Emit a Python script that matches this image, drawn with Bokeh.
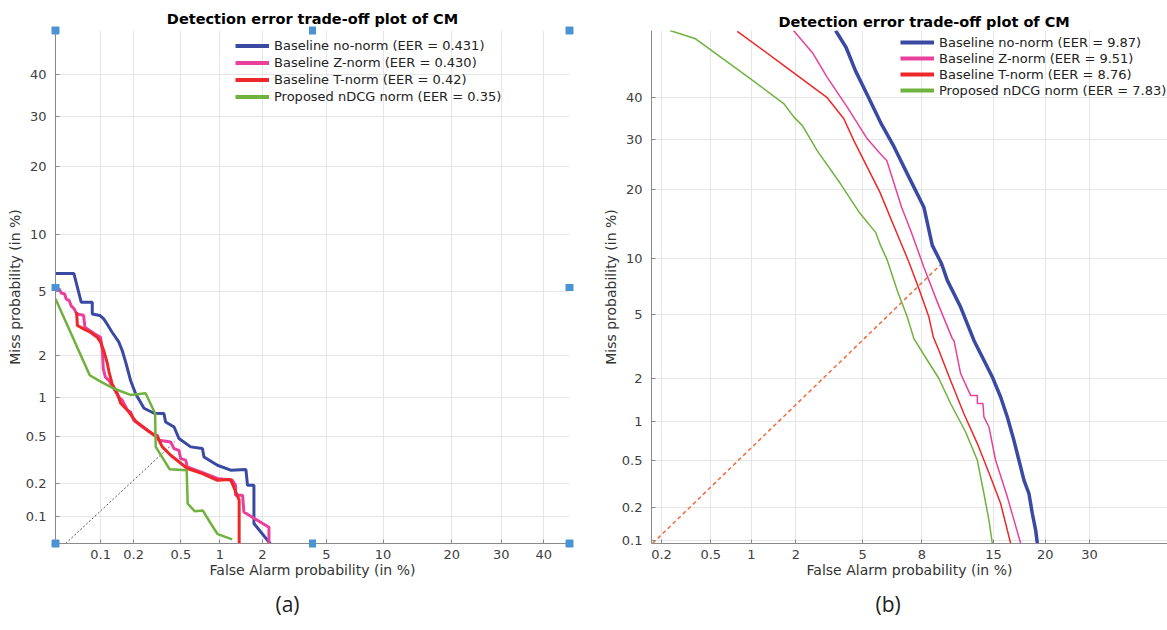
from statistics import NormalDist
from bokeh.plotting import figure
from bokeh.models import (Range1d, FixedTicker, Legend, LegendItem, LinearAxis, Grid,
                          Title)
from bokeh.layouts import row
from bokeh.embed import file_html
from bokeh.resources import INLINE

# ---------------- data (all values in %) ----------------
series_names = ["Baseline no-norm", "Baseline Z-norm", "Baseline T-norm", "Proposed nDCG norm"]
series_colors = ["#3a4aa3", "#e8409c", "#ee2828", "#70b23e"]
eer_a = ["0.431", "0.430", "0.42", "0.35"]
eer_b = ["9.87", "9.51", "8.76", "7.83"]
plot_title = "Detection error trade-off plot of CM"

# panel (a)
a_ticks = [0.1, 0.2, 0.5, 1, 2, 5, 10, 20, 30, 40]
a_tick_labels = ["0.1", "0.2", "0.5", "1", "2", "5", "10", "20", "30", "40"]
a_fa_limits = [0.0364, 46.5]
a_miss_limits = [0.0556, 51.1]

a_blue_fa = [0.0364, 0.0555, 0.0655, 0.0835, 0.0835, 0.0985, 0.107, 0.115, 0.128, 0.1475,
             0.158, 0.17, 0.188, 0.208, 0.246, 0.30, 0.363, 0.375, 0.44, 0.482,
             0.598, 0.738, 0.759, 0.959, 1.20, 1.54, 1.58, 1.75, 1.75, 2.27]
a_blue_miss = [6.3, 6.3, 4.32, 4.32, 3.68, 3.60, 3.43, 3.19, 2.83, 2.44,
               2.15, 1.79, 1.33, 1.07, 0.834, 0.764, 0.76, 0.654, 0.597, 0.483,
               0.413, 0.40, 0.341, 0.29, 0.263, 0.266, 0.194, 0.194, 0.0867, 0.0547]

a_pink_fa = [0.0364, 0.040, 0.0416, 0.045, 0.0466, 0.050, 0.052, 0.056, 0.059, 0.069,
             0.071, 0.086, 0.1, 0.104, 0.106, 0.111, 0.12, 0.133, 0.1475, 0.158,
             0.176, 0.188, 0.20, 0.30, 0.32, 0.33, 0.413, 0.44, 0.482, 0.498,
             0.546, 0.563, 0.716, 0.959, 1.235, 1.30, 1.30, 1.46, 1.49, 2.21, 2.21]
a_pink_miss = [5.3, 5.12, 4.90, 4.83, 4.52, 4.42, 4.13, 3.94, 3.68, 3.61,
               3.04, 2.79, 2.63, 2.15, 1.61, 1.41, 1.33, 1.16, 1.01, 0.96,
               0.806, 0.78, 0.675, 0.513, 0.513, 0.468, 0.453, 0.40, 0.387, 0.33,
               0.32, 0.28, 0.254, 0.223, 0.215, 0.194, 0.158, 0.158, 0.111, 0.080, 0.056]

a_red_fa = [0.059, 0.060, 0.069, 0.080, 0.093, 0.1, 0.107, 0.115, 0.12, 0.128,
            0.143, 0.153, 0.176, 0.208, 0.263, 0.32, 0.352, 0.413, 0.563, 0.738,
            0.959, 1.20, 1.38, 1.38]
a_red_miss = [3.77, 3.12, 2.97, 2.83, 2.63, 2.44, 2.15, 1.79, 1.53, 1.26,
              1.07, 0.91, 0.806, 0.663, 0.563, 0.497, 0.413, 0.352, 0.272, 0.246,
              0.215, 0.218, 0.143, 0.04]

a_green_fa = [0.0364, 0.079, 0.1, 0.132, 0.188, 0.254, 0.292, 0.306, 0.31, 0.405,
              0.556, 0.566, 0.643, 0.742, 0.854, 0.964, 1.23]
a_green_miss = [4.53, 1.455, 1.31, 1.17, 1.05, 1.08, 0.834, 0.764, 0.413, 0.268,
                0.263, 0.133, 0.113, 0.115, 0.0867, 0.0685, 0.061]

a_diag_fa = [0.046, 0.445]
a_diag_miss = [0.0556, 0.453]

# panel (b)
b_xticks = [0.2, 0.5, 1, 2, 5, 10, 20, 30, 40]
b_xtick_labels = ["0.2", "0.5", "1", "2", "5", "8", "15", "20", "30"]
b_yticks = [0.1, 0.2, 0.5, 1, 2, 5, 10, 20, 30, 40]
b_ytick_labels = ["0.1", "0.2", "0.5", "1", "2", "5", "10", "20", "30", "40"]
b_fa_limits = [0.1643, 58.9]
b_miss_limits = [0.0946, 56.9]

b_blue_fa = [3.51, 4.04, 4.56, 5.38, 6.30, 7.34, 8.69, 10.22, 11.17, 12.29,
             13.02, 14.83, 16.80, 18.38, 19.78, 21.23, 22.44, 23.67, 24.63, 25.62,
             26.60, 27.29, 27.97, 28.32]
b_blue_miss = [56.9, 52.6, 46.7, 40.0, 33.6, 28.35, 22.2, 16.95, 11.5, 9.38,
               7.72, 5.54, 3.53, 2.65, 2.06, 1.50, 1.08, 0.72, 0.502, 0.344,
               0.266, 0.178, 0.126, 0.095]

b_pink_fa = [1.93, 2.55, 3.13, 4.10, 5.30, 6.24, 6.73, 7.99, 8.84, 10.22,
             11.77, 13.68, 13.9, 14.83, 16.29, 17.33, 17.33, 18.22, 18.38, 19.21,
             20.35, 22.44, 24.96]
b_pink_miss = [56.9, 51.2, 45.0, 37.6, 30.2, 26.9, 25.5, 16.95, 13.5, 9.02,
               5.90, 3.62, 3.53, 2.17, 1.54, 1.54, 1.35, 1.35, 1.08, 0.91,
               0.502, 0.249, 0.095]

b_red_fa = [0.79, 1.67, 3.13, 3.92, 4.47, 5.30, 6.19, 7.46, 8.68, 9.69,
            10.78, 11.29, 11.96, 13.45, 15.30, 17.33, 19.49, 21.23, 23.05]
b_red_miss = [56.7, 48.0, 39.9, 34.8, 29.8, 24.2, 19.5, 13.5, 9.55, 6.98,
              4.86, 3.70, 3.06, 1.95, 1.14, 0.68, 0.367, 0.218, 0.095]

b_green_fa = [0.235, 0.38, 0.985, 1.67, 1.94, 2.2, 2.72, 3.75, 4.77, 5.88,
              6.24, 6.77, 7.6, 8.52, 9.17, 10.6, 11.96, 13.45, 15.55, 17.33,
              18.38, 19.21, 19.78]
b_green_miss = [56.9, 54.8, 44.6, 38.4, 35.2, 33.2, 27.6, 21.0, 16.2, 13.2,
                11.5, 9.74, 6.83, 4.86, 3.62, 2.65, 2.01, 1.35, 0.834, 0.502,
                0.266, 0.155, 0.095]

b_diag_fa = [0.168, 12.29]
b_diag_miss = [0.095, 9.38]

# ---------------- helpers ----------------
_nd = NormalDist()


def probit(values):
    return [_nd.inv_cdf(v / 100.0) for v in values]


FONT = "DejaVu Sans"
H = 630
HANDLE = "#4a93d4"
HANDLE_OUT = 4


def style_handles(ax):
    ax.minor_tick_in = 4
    ax.minor_tick_out = HANDLE_OUT
    ax.minor_tick_line_color = HANDLE
    ax.minor_tick_line_width = 7


def make_panel(width, fa_lim, miss_lim, xt, xl, yt, yl, min_left, min_right,
               title_offset, handles=False):
    xr = probit(fa_lim)
    yr = probit(miss_lim)
    p = figure(width=width, height=H, output_backend="svg", toolbar_location=None,
               x_range=Range1d(xr[0], xr[1]), y_range=Range1d(yr[0], yr[1]),
               x_axis_location=None, y_axis_location=None,
               min_border_left=min_left, min_border_right=min_right,
               min_border_top=30, min_border_bottom=87)
    p.title = None
    p.center = [r for r in p.center if not isinstance(r, Grid)]
    p.outline_line_color = None
    p.background_fill_color = "white"
    p.border_fill_color = "white"

    xm = (xr[0] + xr[1]) / 2
    ym = (yr[0] + yr[1]) / 2
    hx_ticks = [xr[0], xm, xr[1]] if handles else []
    hy_ticks = [yr[0], ym, yr[1]] if handles else []
    # visible handle ticks push the labels outward; compensate the standoffs
    extra = HANDLE_OUT if handles else 0

    xpos = probit(xt)
    ypos = probit(yt)
    xaxis = LinearAxis(ticker=FixedTicker(ticks=xpos, minor_ticks=hx_ticks),
                       major_label_overrides=dict(zip(xpos, xl)),
                       axis_label="False Alarm probability (in %)",
                       major_label_standoff=6 - extra)
    yaxis = LinearAxis(ticker=FixedTicker(ticks=ypos, minor_ticks=hy_ticks),
                       major_label_overrides=dict(zip(ypos, yl)),
                       axis_label="Miss probability (in %)",
                       major_label_standoff=9 - extra)
    for ax in (xaxis, yaxis):
        ax.axis_line_color = "#8a8a8a"
        ax.major_tick_line_color = "#8a8a8a"
        ax.major_tick_in = 4
        ax.major_tick_out = 0
        ax.minor_tick_line_color = None
        ax.major_label_text_font = FONT
        ax.major_label_text_font_size = "13px"
        ax.major_label_text_color = "#404040"
        ax.axis_label_text_font = FONT
        ax.axis_label_text_font_size = "14px"
        ax.axis_label_text_font_style = "normal"
        ax.axis_label_text_color = "#333333"
        ax.axis_label_standoff = 0
        if handles:
            style_handles(ax)
    p.add_layout(xaxis, "below")
    p.add_layout(yaxis, "left")
    p.add_layout(Grid(dimension=0, ticker=FixedTicker(ticks=xpos), grid_line_color="#e6e6e6"))
    p.add_layout(Grid(dimension=1, ticker=FixedTicker(ticks=ypos), grid_line_color="#e6e6e6"))

    if handles:
        # top edge: tick-less axis carrying the title and the top selection handles
        top = LinearAxis(ticker=FixedTicker(ticks=[], minor_ticks=hx_ticks),
                         axis_line_color=None, major_tick_line_color=None,
                         major_tick_in=0, major_tick_out=0, major_label_standoff=0,
                         major_label_text_font_size="0px",
                         axis_label=plot_title, axis_label_standoff=0,
                         axis_label_text_font=FONT, axis_label_text_font_size="14.5px",
                         axis_label_text_font_style="bold", axis_label_text_color="#000000")
        style_handles(top)
        p.add_layout(top, "above")
        side = LinearAxis(ticker=FixedTicker(ticks=[], minor_ticks=hy_ticks),
                          axis_line_color=None, major_tick_line_color=None,
                          major_tick_in=0, major_tick_out=0, major_label_standoff=0,
                          major_label_text_font_size="0px")
        style_handles(side)
        p.add_layout(side, "right")
    else:
        p.add_layout(Title(text=plot_title, align="left", offset=title_offset,
                           text_font=FONT, text_font_size="14.5px",
                           text_font_style="bold", text_color="#000000", standoff=1),
                     "above")
    return p


def add_legend(p, eers, loc, row_h):
    items = []
    for name, col, e in zip(series_names, series_colors, eers):
        # legend swatch: a one-point line kept outside the visible ranges
        r = p.line(x=[-9.0], y=[-9.0], line_color=col, line_width=4)
        items.append(LegendItem(label=f"{name} (EER = {e})", renderers=[r]))
    leg = Legend(items=items, location=loc, padding=2, margin=0, spacing=0,
                 glyph_width=34, glyph_height=row_h, label_height=row_h,
                 label_standoff=5, label_text_font=FONT, label_text_font_size="13px",
                 label_text_color="#222222", background_fill_alpha=0,
                 border_line_alpha=0)
    p.add_layout(leg)


def add_caption(p, text, offset):
    p.add_layout(Title(text=text, align="left", offset=offset, vertical_align="top",
                       standoff=19, text_font="Open Sans", text_font_size="21px",
                       text_font_style="normal", text_color="#222222"), "below")


# ---------------- panel (a) ----------------
pa = make_panel(590, a_fa_limits, a_miss_limits, a_ticks, a_tick_labels,
                a_ticks, a_tick_labels, 55, 21, 0, handles=True)
pa.line(probit(a_diag_fa), probit(a_diag_miss), line_color="#555555",
        line_dash="2 2", line_width=1)
for fa, miss, col, lw in [(a_blue_fa, a_blue_miss, series_colors[0], 3),
                          (a_pink_fa, a_pink_miss, series_colors[1], 3),
                          (a_red_fa, a_red_miss, series_colors[2], 3),
                          (a_green_fa, a_green_miss, series_colors[3], 2.5)]:
    pa.line(probit(fa), probit(miss), line_color=col, line_width=lw)
add_legend(pa, eer_a, (178, 436), 17)
add_caption(pa, "(a)", 220)

# ---------------- panel (b) ----------------
pb = make_panel(577, b_fa_limits, b_miss_limits, b_xticks, b_xtick_labels,
                b_yticks, b_ytick_labels, 61, 0, 127)
pb.line(probit(b_diag_fa), probit(b_diag_miss), line_color="#f06a3a",
        line_dash="4 3", line_width=1.5)
for fa, miss, col, lw in [(b_green_fa, b_green_miss, series_colors[3], 1.5),
                          (b_red_fa, b_red_miss, series_colors[2], 1.5),
                          (b_pink_fa, b_pink_miss, series_colors[1], 1.5),
                          (b_blue_fa, b_blue_miss, series_colors[0], 3.5)]:
    pb.line(probit(fa), probit(miss), line_color=col, line_width=lw)
add_legend(pb, eer_b, (247, 443), 16)
add_caption(pb, "(b)", 224)

layout = row(pa, pb)
open("out.html", "w").write(file_html(layout, INLINE))
